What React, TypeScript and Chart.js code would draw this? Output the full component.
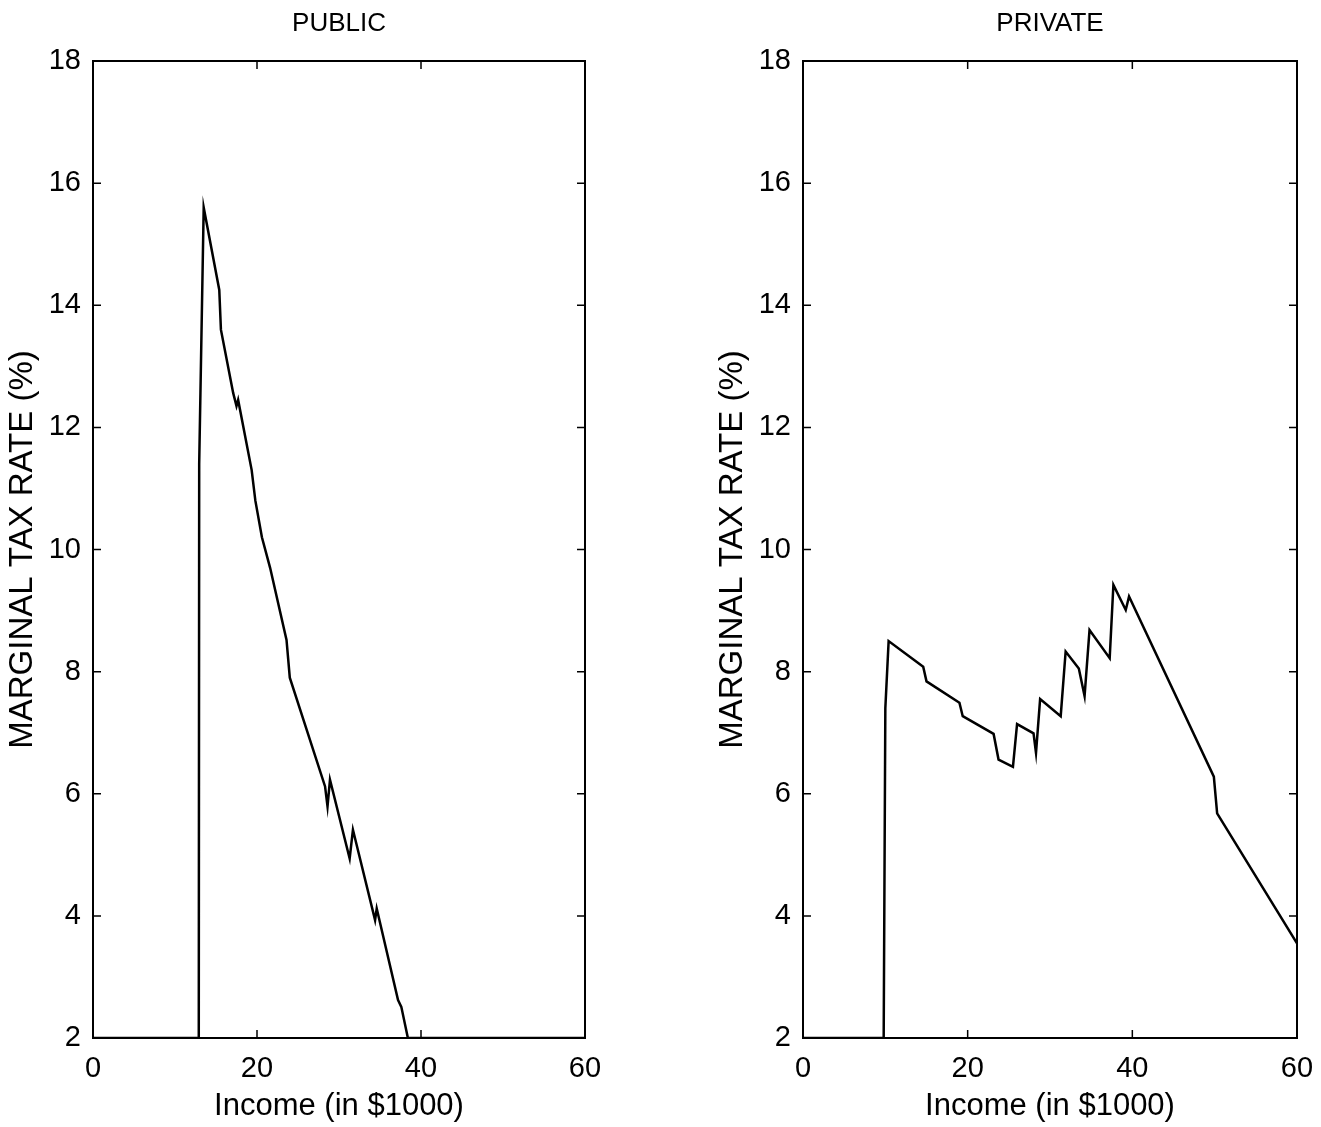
import React, { useEffect, useRef } from "react";
import { Chart, registerables } from "chart.js";

Chart.register(...registerables);

// ---- Data ----
const publicIncome = [0, 12.9, 12.95, 13.5, 15.4, 15.6, 17.1, 17.5, 17.7, 19.35, 19.8, 20.6, 21.6, 23.6, 24.0, 28.3, 28.6, 28.9, 31.3, 31.7, 34.4, 34.6, 37.2, 37.6, 38.4, 60];
const publicRate = [2, 2, 11.4, 15.6, 14.25, 13.6, 12.56, 12.35, 12.45, 11.3, 10.8, 10.2, 9.7, 8.52, 7.9, 6.12, 5.79, 6.23, 4.94, 5.41, 3.93, 4.12, 2.62, 2.51, 2, 2];

const privateIncome = [0, 9.8, 10.0, 10.4, 14.6, 15.0, 19.0, 19.4, 23.15, 23.75, 25.5, 26.0, 28.0, 28.3, 28.8, 31.3, 31.9, 33.5, 34.2, 34.8, 37.25, 37.7, 39.2, 39.6, 49.9, 50.3, 60];
const privateRate = [2, 2, 7.4, 8.5, 8.08, 7.84, 7.49, 7.27, 6.98, 6.56, 6.44, 7.14, 6.99, 6.67, 7.55, 7.27, 8.33, 8.05, 7.6, 8.68, 8.22, 9.42, 9.01, 9.23, 6.28, 5.68, 3.55];

const xTicks = [0, 20, 40, 60];
const yTicks = [2, 4, 6, 8, 10, 12, 14, 16, 18];
const panelTitles = ["PUBLIC", "PRIVATE"];
const xAxisTitle = "Income (in $1000)";
const yAxisTitle = "MARGINAL TAX RATE (%)";

const FONT = "'Liberation Sans', Arial, Helvetica, sans-serif";

const boxPlugin = {
  id: "boxTicks",
  afterDatasetsDraw(chart: any) {
    const { ctx, chartArea } = chart;
    const { left, right, top, bottom } = chartArea;
    const xs = chart.scales.x;
    const ys = chart.scales.y;
    const tl = 8;
    ctx.save();
    ctx.strokeStyle = "#000";
    ctx.lineWidth = 2;
    ctx.strokeRect(left, top, right - left, bottom - top);
    ctx.lineWidth = 1.5;
    ctx.beginPath();
    xTicks.forEach((v) => {
      const px = xs.getPixelForValue(v);
      ctx.moveTo(px, bottom);
      ctx.lineTo(px, bottom - tl);
      ctx.moveTo(px, top);
      ctx.lineTo(px, top + tl);
    });
    yTicks.forEach((v) => {
      const py = ys.getPixelForValue(v);
      ctx.moveTo(left, py);
      ctx.lineTo(left + tl, py);
      ctx.moveTo(right, py);
      ctx.lineTo(right - tl, py);
    });
    ctx.stroke();
    ctx.restore();
  },
};

function Panel({ title, xs, ys, left, width, padRight, yWidth, yTitlePad }: any) {
  const ref = useRef<HTMLCanvasElement>(null);
  useEffect(() => {
    if (!ref.current) return;
    const chart = new Chart(ref.current, {
      type: "line",
      data: {
        datasets: [
          {
            data: xs.map((x: number, i: number) => ({ x, y: ys[i] })),
            borderColor: "#000",
            borderWidth: 2.5,
            pointRadius: 0,
            tension: 0,
            fill: false,
          },
        ],
      },
      options: {
        responsive: false,
        animation: false,
        layout: { padding: { left: 0, right: padRight, top: 0, bottom: 0 } },
        plugins: {
          legend: { display: false },
          tooltip: { enabled: false },
          title: {
            display: true,
            text: title,
            fullSize: false,
            color: "#000",
            font: { family: FONT, size: 26, weight: "normal", lineHeight: 1.2 },
            padding: { top: 8, bottom: 21.8 },
          },
        },
        scales: {
          x: {
            type: "linear",
            min: 0,
            max: 60,
            afterBuildTicks: (s: any) => {
              s.ticks = xTicks.map((v) => ({ value: v }));
            },
            afterFit: (s: any) => {
              s.height = 89;
            },
            grid: { display: false, drawTicks: false },
            border: { display: false },
            ticks: {
              color: "#000",
              padding: 14,
              maxRotation: 0,
              font: { family: FONT, size: 29, lineHeight: 1.2 },
            },
            title: {
              display: true,
              text: xAxisTitle,
              color: "#000",
              font: { family: FONT, size: 31, lineHeight: 1.2 },
              padding: { top: 0, bottom: 2 },
            },
          },
          y: {
            type: "linear",
            min: 2,
            max: 18,
            afterBuildTicks: (s: any) => {
              s.ticks = yTicks.map((v) => ({ value: v }));
            },
            afterFit: (s: any) => {
              s.width = yWidth;
            },
            grid: { display: false, drawTicks: false },
            border: { display: false },
            ticks: {
              color: "#000",
              padding: 12,
              font: { family: FONT, size: 29, lineHeight: 1.2 },
            },
            title: {
              display: true,
              text: yAxisTitle,
              color: "#000",
              font: { family: FONT, size: 33, lineHeight: 1.2 },
              padding: { top: yTitlePad, bottom: 0 },
            },
          },
        },
      },
      plugins: [boxPlugin],
    });
    return () => chart.destroy();
  }, []);
  return (
    <canvas
      ref={ref}
      width={width}
      height={1127}
      style={{ position: "absolute", left, top: 0, width, height: 1127 }}
    />
  );
}

export default function App() {
  return (
    <div
      style={{
        position: "fixed",
        left: 0,
        top: 0,
        width: 1321,
        height: 1127,
        background: "#fff",
        overflow: "hidden",
      }}
    >
      <Panel title={panelTitles[0]} xs={publicIncome} ys={publicRate} left={0} width={620} padRight={35} yWidth={93} yTitlePad={3} />
      <Panel title={panelTitles[1]} xs={privateIncome} ys={privateRate} left={703} width={628} padRight={34} yWidth={100} yTitlePad={10} />
    </div>
  );
}
